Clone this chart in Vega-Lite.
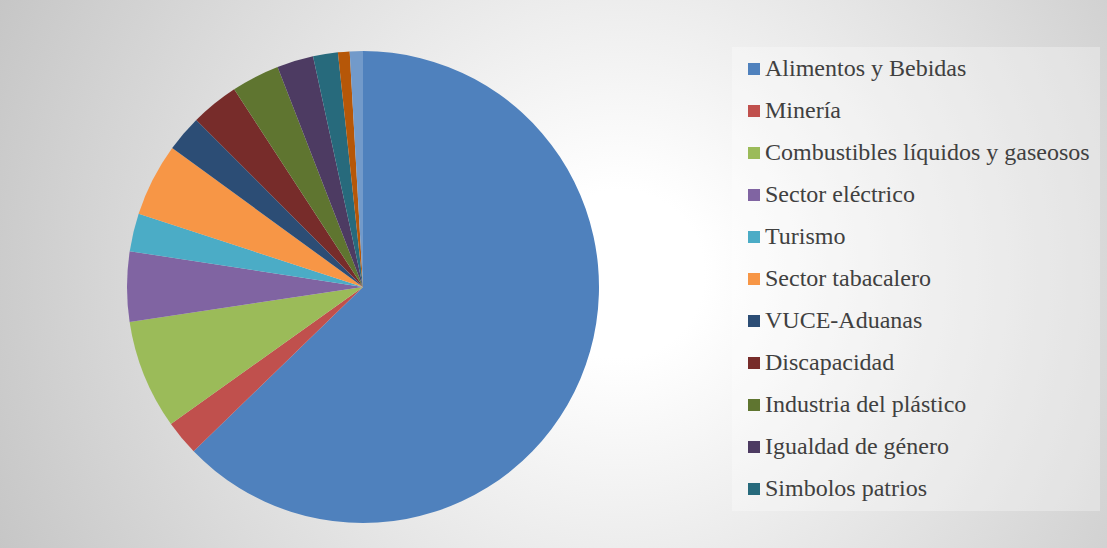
{
  "$schema": "https://vega.github.io/schema/vega-lite/v6.json",
  "padding": 0,
  "background": "#d9d9d9",
  "config": {"view": {"stroke": null}, "concat": {"spacing": 0}},
  "spacing": 0,
  "resolve": {"scale": {"color": "shared"}, "legend": {"color": "shared"}},
  "vconcat": [
    {
      "width": 1107,
      "height": 26,
      "data": {"values": [{"fondo": 1}]},
      "mark": {
        "type": "rect",
        "color": {
          "gradient": "radial",
          "x1": 0.5601, "y1": 0.7358, "r1": 0,
          "x2": 0.5601, "y2": 0.7358, "r2": 0.6323,
          "stops": [
            {"offset": 0, "color": "#ffffff"},
            {"offset": 0.12, "color": "#ffffff"},
            {"offset": 1, "color": "#c4c4c4"}
          ]
        }
      },
      "encoding": {}
    },
    {
      "spacing": 0,
      "resolve": {"scale": {"color": "shared"}, "legend": {"color": "shared"}},
      "hconcat": [
        {
          "width": 726,
          "height": 522,
          "layer": [
            {
              "data": {"values": [{"fondo": 1}]},
              "mark": {
                "type": "rect",
                "color": {
                  "gradient": "radial",
                  "x1": 0.854, "y1": 0.4821, "r1": 0,
                  "x2": 0.854, "y2": 0.4821, "r2": 0.9642,
                  "stops": [
                    {"offset": 0, "color": "#ffffff"},
                    {"offset": 0.12, "color": "#ffffff"},
                    {"offset": 1, "color": "#c4c4c4"}
                  ]
                }
              },
              "encoding": {}
            },
            {
              "data": {
                "values": [
                  {"orden": 1, "sector": "Alimentos y Bebidas", "valor": 62.8},
                  {"orden": 2, "sector": "Minería", "valor": 2.4},
                  {"orden": 3, "sector": "Combustibles líquidos y gaseosos", "valor": 7.5},
                  {"orden": 4, "sector": "Sector eléctrico", "valor": 4.8},
                  {"orden": 5, "sector": "Turismo", "valor": 2.6},
                  {"orden": 6, "sector": "Sector tabacalero", "valor": 5.0},
                  {"orden": 7, "sector": "VUCE-Aduanas", "valor": 2.5},
                  {"orden": 8, "sector": "Discapacidad", "valor": 3.3},
                  {"orden": 9, "sector": "Industria del plástico", "valor": 3.3},
                  {"orden": 10, "sector": "Igualdad de género", "valor": 2.5},
                  {"orden": 11, "sector": "Simbolos patrios", "valor": 1.7},
                  {"orden": 12, "sector": "Otros (1)", "valor": 0.8},
                  {"orden": 13, "sector": "Otros (2)", "valor": 0.9}
                ]
              },
              "mark": {"type": "arc", "outerRadius": 236},
              "encoding": {
                "theta": {"field": "valor", "type": "quantitative", "stack": true},
                "order": {"field": "orden", "type": "quantitative"},
                "color": {
                  "field": "sector",
                  "type": "nominal",
                  "scale": {
                    "domain": ["Alimentos y Bebidas", "Minería", "Combustibles líquidos y gaseosos", "Sector eléctrico", "Turismo", "Sector tabacalero", "VUCE-Aduanas", "Discapacidad", "Industria del plástico", "Igualdad de género", "Simbolos patrios", "Otros (1)", "Otros (2)"],
                    "range": ["#4F81BD", "#C0504D", "#9BBB59", "#8064A2", "#4BACC6", "#F79646", "#2C4D75", "#772C2A", "#5F7530", "#4D3B62", "#276A7C", "#B65708", "#729ACA"]
                  },
                  "legend": {
                    "title": null,
                    "orient": "none",
                    "legendX": 732,
                    "legendY": 47,
                    "values": ["Alimentos y Bebidas", "Minería", "Combustibles líquidos y gaseosos", "Sector eléctrico", "Turismo", "Sector tabacalero", "VUCE-Aduanas", "Discapacidad", "Industria del plástico", "Igualdad de género", "Simbolos patrios"],
                    "symbolType": "square",
                    "symbolSize": 144,
                    "symbolStrokeWidth": 0,
                    "symbolOpacity": 1,
                    "labelFont": "Liberation Serif",
                    "labelFontSize": 24,
                    "labelColor": "#404040",
                    "labelOffset": -1,
                    "labelLimit": 0,
                    "rowPadding": 18,
                    "padding": 10,
                    "fillColor": "rgba(255,255,255,0.3)"
                  }
                }
              }
            }
          ]
        },
        {
          "width": 381,
          "height": 522,
          "data": {"values": [{"fondo": 1}]},
          "mark": {
            "type": "rect",
            "color": {
              "gradient": "radial",
              "x1": -0.068, "y1": 0.4751, "r1": 0,
              "x2": -0.068, "y2": 0.4751, "r2": 1.341,
              "stops": [
                {"offset": 0, "color": "#ffffff"},
                {"offset": 0.12, "color": "#ffffff"},
                {"offset": 1, "color": "#c4c4c4"}
              ]
            }
          },
          "encoding": {}
        }
      ]
    }
  ]
}
